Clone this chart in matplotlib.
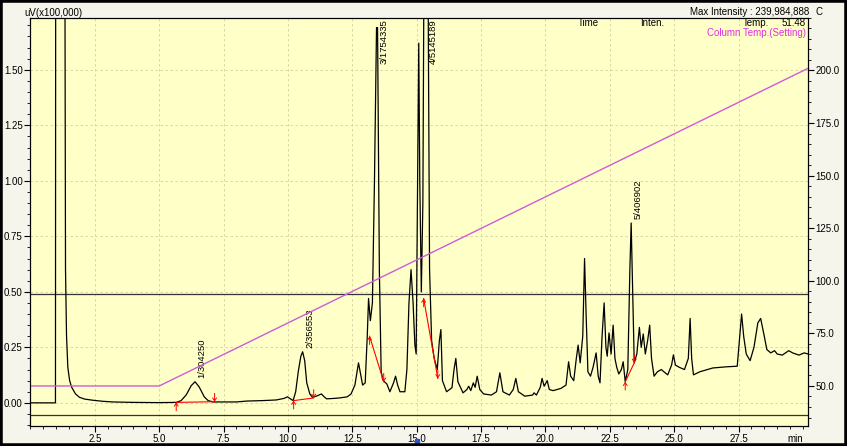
import matplotlib
matplotlib.use('Agg')
import matplotlib.pyplot as plt
from matplotlib.ticker import MultipleLocator, FixedLocator, FormatStrFormatter
from matplotlib.patches import Rectangle

plt.rcParams['font.family'] = ['Liberation Sans', 'DejaVu Sans']
plt.rcParams['font.size'] = 7

# chromatogram trace (min, uV x100,000)
rt = [0.0, 0.97, 0.98, 1.33, 1.36, 1.40, 1.45, 1.52, 1.60, 1.75, 1.90, 2.10, 2.40, 2.80,
      3.20, 4.00, 5.00, 5.66, 5.85, 6.05, 6.24, 6.39, 6.55, 6.75, 6.90, 7.10, 8.00, 8.40,
      9.00, 9.55, 9.85, 9.98, 10.10, 10.20, 10.30, 10.40, 10.50, 10.57, 10.65, 10.73, 10.85,
      10.95, 11.10, 11.30, 11.40, 11.50, 11.80, 12.00, 12.30, 12.45, 12.60, 12.74, 12.82,
      12.90, 13.00, 13.08, 13.13, 13.20, 13.28, 13.36, 13.44, 13.48, 13.55, 13.62, 13.70,
      13.84, 13.96, 14.10, 14.18, 14.26, 14.35, 14.54, 14.62, 14.70, 14.78, 14.86, 14.93,
      14.98, 15.03, 15.08, 15.12, 15.18, 15.24, 15.30, 15.42, 15.50, 15.58, 15.68, 15.80,
      15.88, 15.94, 16.00, 16.16, 16.37, 16.45, 16.52, 16.60, 16.80, 16.95, 17.02, 17.10,
      17.20, 17.27, 17.35, 17.45, 17.60, 17.90, 18.10, 18.23, 18.35, 18.60, 18.75, 18.85,
      18.95, 19.20, 19.50, 19.56, 19.65, 19.80, 19.87, 19.95, 20.07, 20.15, 20.30, 20.60,
      20.80, 20.90, 20.98, 21.10, 21.20, 21.27, 21.35, 21.45, 21.52, 21.58, 21.65, 21.75,
      21.85, 21.97, 22.05, 22.12, 22.20, 22.28, 22.35, 22.40, 22.47, 22.55, 22.63, 22.70,
      22.77, 22.85, 22.95, 23.02, 23.10, 23.20, 23.28, 23.33, 23.38, 23.45, 23.55, 23.65,
      23.72, 23.80, 23.88, 23.97, 24.05, 24.12, 24.22, 24.35, 24.50, 24.60, 24.75, 24.90,
      24.97, 25.05, 25.20, 25.40, 25.55, 25.62, 25.68, 25.75, 26.00, 26.30, 26.50, 27.00,
      27.45, 27.55, 27.62, 27.70, 27.80, 27.95, 28.10, 28.25, 28.36, 28.50, 28.60, 28.75,
      28.90, 29.00, 29.20, 29.45, 29.60, 29.85, 30.05, 30.20]
inten = [0.0, 0.0, 2.4, 2.4, 0.60, 0.30, 0.16, 0.10, 0.07, 0.04, 0.025, 0.017, 0.012, 0.007,
         0.004, 0.002, 0.001, 0.002, 0.010, 0.036, 0.077, 0.095, 0.072, 0.027, 0.010, 0.004,
         0.004, 0.008, 0.010, 0.013, 0.020, 0.027, 0.018, 0.010, 0.050, 0.140, 0.210, 0.230,
         0.190, 0.090, 0.040, 0.025, 0.030, 0.040, 0.028, 0.018, 0.020, 0.022, 0.027, 0.040,
         0.080, 0.180, 0.130, 0.080, 0.090, 0.300, 0.470, 0.370, 0.450, 1.00, 1.69, 1.69,
         0.60, 0.140, 0.100, 0.085, 0.050, 0.090, 0.120, 0.080, 0.050, 0.050, 0.150, 0.450,
         0.600, 0.450, 0.260, 0.220, 0.900, 1.62, 1.00, 0.50, 0.90, 2.4, 2.4, 0.60, 0.28,
         0.20, 0.15, 0.28, 0.33, 0.10, 0.05, 0.068, 0.15, 0.20, 0.095, 0.045, 0.06, 0.075,
         0.055, 0.09, 0.07, 0.12, 0.06, 0.04, 0.035, 0.05, 0.135, 0.05, 0.035, 0.06, 0.11,
         0.05, 0.03, 0.035, 0.045, 0.035, 0.07, 0.11, 0.075, 0.10, 0.06, 0.055, 0.065,
         0.08, 0.185, 0.12, 0.10, 0.20, 0.26, 0.18, 0.30, 0.65, 0.40, 0.14, 0.12,
         0.16, 0.225, 0.12, 0.09, 0.30, 0.45, 0.25, 0.21, 0.315, 0.22, 0.35, 0.20,
         0.16, 0.13, 0.15, 0.185, 0.095, 0.15, 0.60, 0.81, 0.55, 0.18, 0.22, 0.34,
         0.25, 0.31, 0.22, 0.28, 0.35, 0.20, 0.12, 0.14, 0.15, 0.14, 0.126, 0.17,
         0.216, 0.17, 0.16, 0.15, 0.20, 0.38, 0.20, 0.126, 0.14, 0.15, 0.157, 0.162,
         0.165, 0.30, 0.40, 0.30, 0.22, 0.19, 0.25, 0.36, 0.38, 0.30, 0.24, 0.225,
         0.235, 0.22, 0.215, 0.235, 0.225, 0.215, 0.225, 0.22]

# column oven program (setting)
temp_t = [0.0, 5.0, 30.2]
temp_c = [50.0, 50.0, 201.0]

# integrated peaks
pk_time = [6.39, 10.57, 13.46, 15.36, 23.35]
pk_height = [0.095, 0.23, 1.69, 2.4, 0.81]
pk_area = ['304250', '356553', '1754335', '5145189', '406902']
bl_t0 = [5.66, 10.22, 13.17, 15.27, 23.10]
bl_v0 = [0.002, 0.010, 0.30, 0.47, 0.095]
bl_t1 = [7.15, 11.00, 13.72, 15.82, 23.45]
bl_v1 = [0.005, 0.022, 0.095, 0.11, 0.18]

# levels of the two dark horizontal lines
window_lines = [0.49, -0.055]

W, H = 847, 446


def px(x, y):
    return x / W, 1 - y / H


fig = plt.figure(figsize=(W / 100, H / 100), dpi=100, facecolor='#F6F5EC')
ax = fig.add_axes([0.036, 0.045, 0.918, 0.915])
ax.set_facecolor('#FFFFC8')

ax.plot(rt, inten, color='black', lw=0.9, zorder=3)
for lvl in window_lines:
    ax.axhline(lvl, color='#333333', lw=0.9, zorder=2)

# baselines with start/end arrows
for t0, v0, t1, v1 in zip(bl_t0, bl_v0, bl_t1, bl_v1):
    ax.plot([t0, t1], [v0, v1], color='red', lw=0.8, zorder=4)
    ax.annotate('', xy=(t0, v0), xytext=(0, -6), textcoords='offset points',
                arrowprops=dict(arrowstyle='->,head_length=0.3,head_width=0.2',
                                color='red', lw=0.7, shrinkA=0, shrinkB=0), zorder=4)
    ax.annotate('', xy=(t1, v1), xytext=(0, 6), textcoords='offset points',
                arrowprops=dict(arrowstyle='->,head_length=0.3,head_width=0.2',
                                color='red', lw=0.7, shrinkA=0, shrinkB=0), zorder=4)

# peak labels
for i, (t, h, a) in enumerate(zip(pk_time, pk_height, pk_area)):
    lab = f'{i + 1}/{a}'
    if h < 1.5:
        ax.annotate(lab, xy=(t, h), xytext=(5, 3), textcoords='offset points',
                    rotation=90, ha='center', va='bottom', fontsize=6.8)
    else:
        ax.annotate(lab, xy=(t, 1.0), xycoords=('data', 'axes fraction'),
                    xytext=(5, -1), textcoords='offset points',
                    rotation=90, ha='center', va='top', fontsize=6.8)

ax.set_xlim(0, 30.2)
ax.set_ylim(-0.104, 1.734)
ax.xaxis.set_major_locator(FixedLocator([2.5, 5.0, 7.5, 10.0, 12.5, 15.0, 17.5, 20.0,
                                         22.5, 25.0, 27.5]))
ax.xaxis.set_minor_locator(MultipleLocator(0.5))
ax.xaxis.set_major_formatter(FormatStrFormatter('%.1f'))
ax.yaxis.set_major_locator(FixedLocator([0.0, 0.25, 0.5, 0.75, 1.0, 1.25, 1.5]))
ax.yaxis.set_minor_locator(MultipleLocator(0.05))
ax.yaxis.set_major_formatter(FormatStrFormatter('%.2f'))
ax.grid(True, which='major', color='#D8CFA0', lw=0.6, ls=(0, (3, 3)), zorder=1)
ax.tick_params(which='major', direction='out', length=4, width=0.8, pad=1.5, labelsize=7)
ax.tick_params(which='minor', direction='out', length=2.5, width=0.6)
for sp in ax.spines.values():
    sp.set_linewidth(0.8)

ax2 = ax.twinx()
ax2.plot(temp_t, temp_c, color='#D05AD8', lw=1.0, zorder=2)
ax2.set_ylim(31.0, 225.0)
ax2.yaxis.set_major_locator(FixedLocator([50, 75, 100, 125, 150, 175, 200]))
ax2.yaxis.set_minor_locator(MultipleLocator(5))
ax2.yaxis.set_major_formatter(FormatStrFormatter('%.1f'))
ax2.tick_params(which='major', direction='out', length=4, width=0.8, pad=1.5, labelsize=7)
ax2.tick_params(which='minor', direction='out', length=2.5, width=0.6)

# small blue marker under 15 min
ax.plot([15.0], [-0.037], transform=ax.get_xaxis_transform(), marker='s', ms=3,
        color='#3050C0', clip_on=False)
ax.annotate('min', xy=(29.7, 0), xycoords=('data', 'axes fraction'), xytext=(0, -5.5),
            textcoords='offset points', ha='center', va='top', fontsize=7)

# header texts
fig.text(*px(24, 13), 'uV(x100,000)', ha='left', va='center', fontsize=7)
fig.text(*px(809, 12), 'Max Intensity : 239,984,888', ha='right', va='center', fontsize=7)
fig.text(*px(815, 12), 'C', ha='left', va='center', fontsize=7)
fig.text(*px(578, 23), 'Time', ha='left', va='center', fontsize=7)
fig.text(*px(640, 23), 'Inten.', ha='left', va='center', fontsize=7)
fig.text(*px(743, 23), 'Temp.', ha='left', va='center', fontsize=7)
fig.text(*px(806, 23), '51.48', ha='right', va='center', fontsize=7)
fig.text(*px(806, 33), 'Column Temp.(Setting)', ha='right', va='center', fontsize=7,
         color='#E030E0')

fig.patches.append(Rectangle((0, 0), 1, 1, transform=fig.transFigure, fill=False,
                             ec='black', lw=4))

fig.savefig('out.png', dpi=100, facecolor=fig.get_facecolor())
